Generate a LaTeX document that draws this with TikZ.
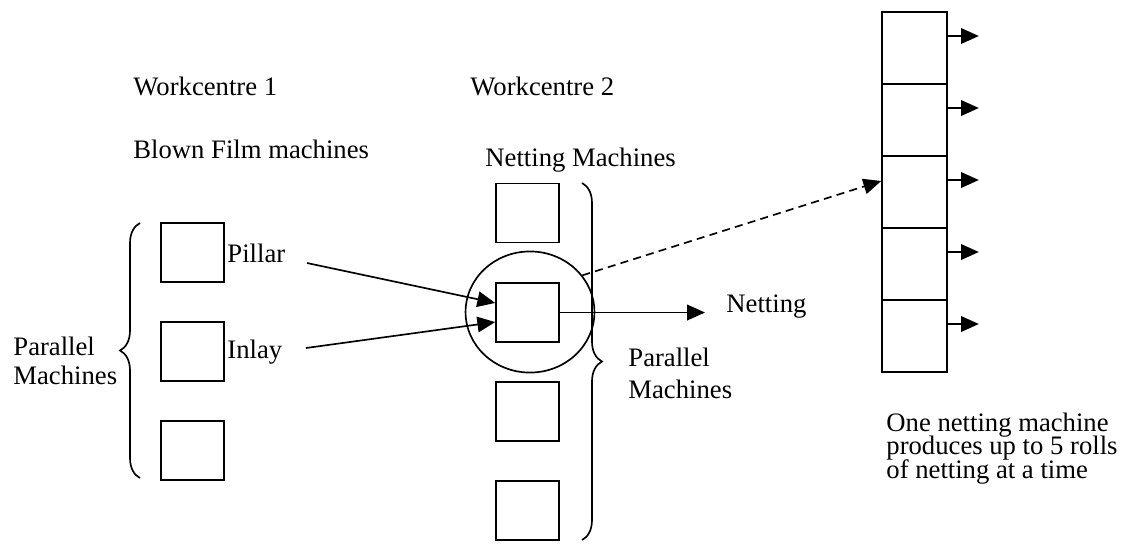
\documentclass[tikz,border=0pt]{standalone}
\usepackage{fontspec}
\setmainfont{Liberation Serif}
\usetikzlibrary{arrows.meta,shapes.geometric,decorations.pathreplacing}

\begin{document}
\begin{tikzpicture}[x=0.45pt,y=-0.45pt,
  machine/.style={draw,line width=0.75pt,minimum width=28.35pt,minimum height=26.6pt,inner sep=0},
  roll/.style={draw,line width=0.75pt,minimum width=29.25pt,minimum height=32.4pt,inner sep=0},
  lbl/.style={anchor=base west,inner sep=0,font=\fontsize{12}{14}\selectfont,align=left},
  flow/.style={line width=0.75pt,-{Triangle[length=8pt,width=7pt]}},
  bracket/.style={line width=0.75pt,decorate,decoration={brace,amplitude=9pt}}
]
\useasboundingbox (0,0) rectangle (1125,543);

% headings
\node[lbl] (wc1) at (133,95) {Workcentre 1};
\node[lbl] (wc2) at (470,95) {Workcentre 2};
\node[lbl] (bf) at (133,158) {Blown Film machines};
\node[lbl] (nm) at (485,166) {Netting Machines};

% workcentre 1: blown film machines
\node[machine] (b1) at (192.5,252.5) {};
\node[machine] (b2) at (192.5,351.5) {};
\node[machine] (b3) at (192.5,450.5) {};
\node[lbl] (pillar) at (227,262) {Pillar};
\node[lbl] (inlay) at (227,358) {Inlay};
\draw[bracket] (140,478) -- (140,223);
% multi-line labels are anchored at the baseline of their last line
\node[lbl,font=\fontsize{12}{12.7}\selectfont] (par1) at (13,384) {Parallel\\Machines};

% workcentre 2: netting machines
\node[machine] (m1) at (527.5,213) {};
\node[machine] (m2) at (527.5,312.5) {};
\node[machine] (m3) at (527.5,411.5) {};
\node[machine] (m4) at (527.5,510.5) {};
\node[draw,ellipse,line width=0.75pt,minimum width=58pt,minimum height=54.5pt,inner sep=0] (focus) at (530,312) {};
\draw[bracket] (582,183) -- (582,540);
\node[lbl] (par2) at (628,398) {Parallel\\Machines};

% inputs to the netting machine
\coordinate (pillarTail) at (307,263);
\coordinate (inlayTail) at (306,348);
\draw[flow] (pillarTail) -- ([yshift=4.3pt]m2.west);
\draw[flow] (inlayTail) -- ([yshift=-4.3pt]m2.west);

% output
\coordinate (netOut) at (705,312.5);
\draw[flow] (m2.east) -- (netOut);
\node[lbl] (netting) at (726,312) {Netting};

% rolls produced by one netting machine
\foreach \i/\y in {1/48,2/120,3/192,4/264,5/336}{
  \node[roll] (r\i) at (914.5,\y) {};
  \draw[flow] ([yshift=5.4pt]r\i.east) -- ++(31,0);
}
\draw[flow,dash pattern=on 3.6pt off 2.4pt] (focus.35) -- ([yshift=4.95pt]r3.west);
% tight leading: keep the fixed baseline skip even where lines touch
\node[lbl,font={\fontsize{12}{10.5}\selectfont\lineskiplimit=-20pt\relax}] (note) at (886,478)
  {One netting machine\\produces up to 5 rolls\\of netting at a time};
\end{tikzpicture}
\end{document}
